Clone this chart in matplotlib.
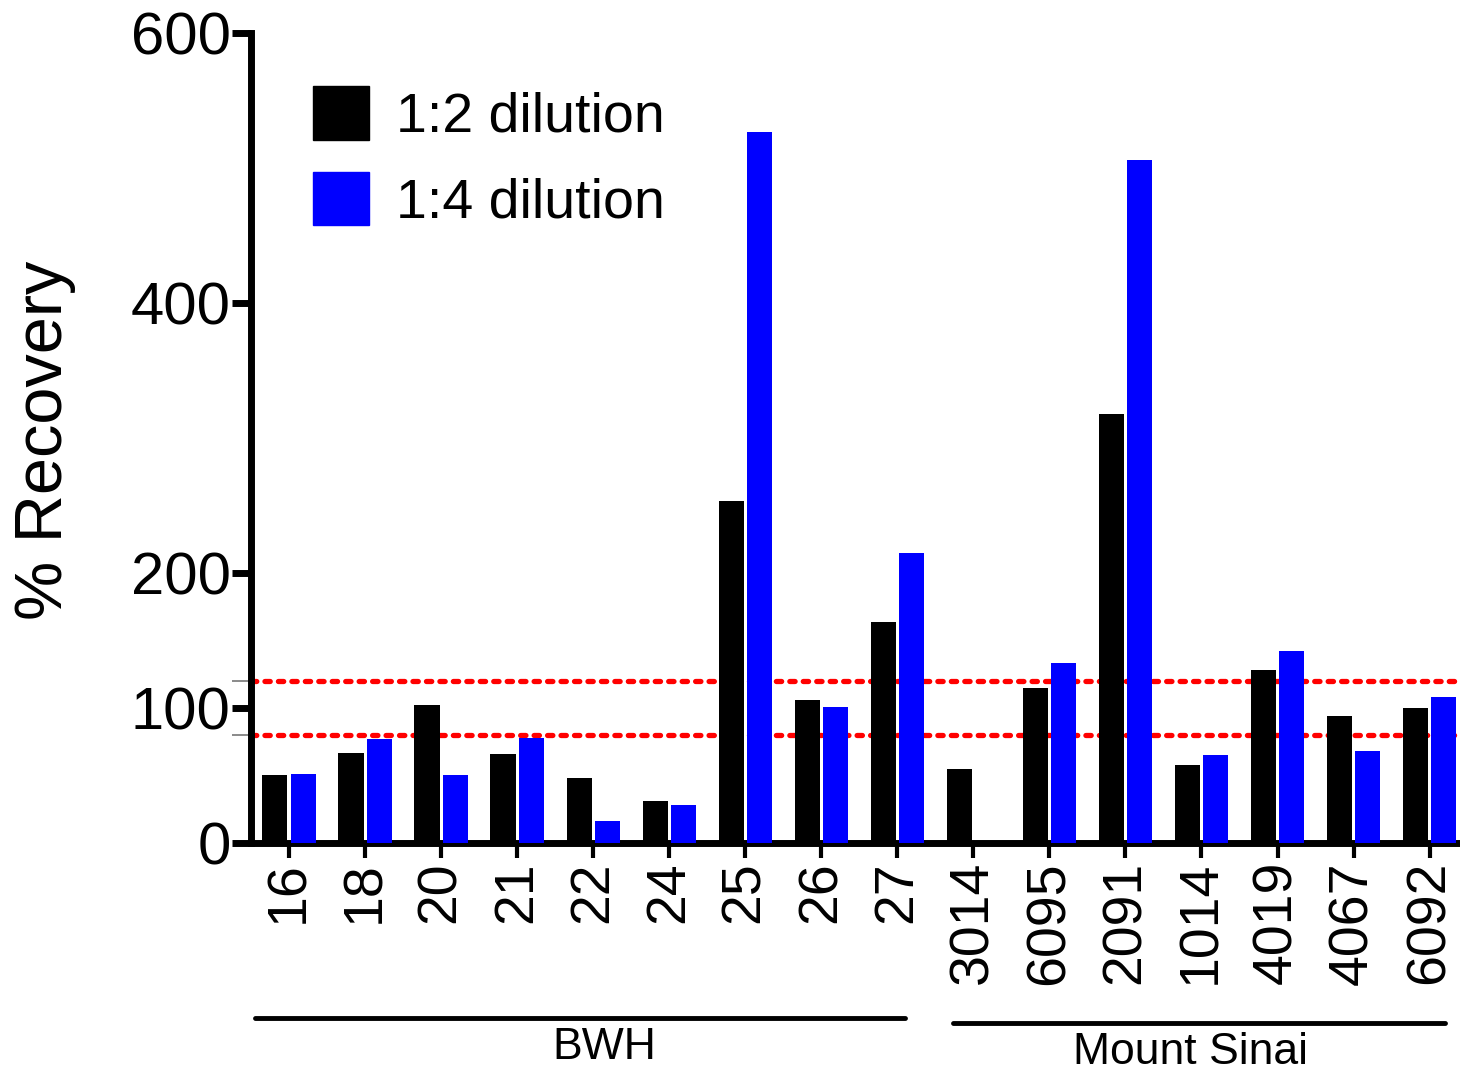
import numpy as np
import matplotlib.pyplot as plt
from matplotlib.patches import Rectangle

plt.rcParams['font.family'] = ['Liberation Sans', 'DejaVu Sans']

# samples, BWH first then Mount Sinai
samples = ["16", "18", "20", "21", "22", "24", "25", "26", "27",
           "3014", "6095", "2091", "1014", "4019", "4067", "6092"]
dil_1_2 = [50, 67, 102, 66, 48, 31, 253, 106, 164,
           55, 115, 318, 58, 128, 94, 100]
dil_1_4 = [51, 77, 50, 78, 16, 28, 527, 101, 215,
           0, 133, 506, 65, 142, 68, 108]
groups = ["BWH", "Mount Sinai"]
limits = [80, 120]

fig = plt.figure(figsize=(14.6, 10.77), dpi=100)
ax = fig.add_axes([0.1719, 0.2173, 0.8281, 0.7521])

x = np.arange(len(samples))
w = 0.33
ax.bar(x - 0.185, dil_1_2, w, color="black", zorder=3)
ax.bar(x + 0.185, dil_1_4, w, color="#0000ff", zorder=3)

for v in limits:
    ax.axhline(v, color="red", lw=3.8, ls=(0, (1.0, 1.55)),
               dash_capstyle="round", zorder=2)

ax.set_xlim(-0.5, 15.4)
ax.set_ylim(0, 600)

ax.set_yticks([0, 100, 200, 400, 600])
ax.set_yticks(limits, minor=True)
ax.tick_params(axis="y", which="major", length=13.5, width=5, labelsize=43, pad=1)
ax.tick_params(axis="y", which="minor", length=13.5, width=1.2, color="#777777")

ax.set_xticks(x)
ax.set_xticklabels(samples, rotation=90, fontsize=40)
ax.tick_params(axis="x", length=11, width=3, pad=2)

for s in ["top", "right"]:
    ax.spines[s].set_visible(False)
for s in ["left", "bottom"]:
    ax.spines[s].set_linewidth(5)
ax.spines["bottom"].set_bounds(-0.5, 15.4)

fig.text(45 / 1460, 1 - 440 / 1077, "% Recovery", rotation=90,
         fontsize=48, ha="center", va="center")

# group brackets under the tick labels
trans = ax.get_xaxis_transform()
spans = [(-0.45, 8.1), (8.73, 15.2)]
line_y = [-0.216, -0.222]
text_x = [4.15, 11.85]
text_y = [-0.252, -0.259]
for g, (x0, x1), ly, tx, ty in zip(groups, spans, line_y, text_x, text_y):
    ax.plot([x0, x1], [ly, ly], transform=trans, color="black", lw=3.5,
            solid_capstyle="round", clip_on=False)
    ax.text(tx, ty, g, transform=trans, fontsize=32,
            ha="center", va="center")

handles = [Rectangle((0, 0), 1, 1, color="black"),
           Rectangle((0, 0), 1, 1, color="#0000ff")]
ax.legend(handles, ["1:2 dilution", "1:4 dilution"], loc="upper left",
          bbox_to_anchor=(0.0513, 0.934), frameon=False, fontsize=40,
          handlelength=1.0, handleheight=1.1, handletextpad=0.5,
          labelspacing=0.5, borderpad=0, borderaxespad=0)

fig.savefig("out.png", dpi=100)
